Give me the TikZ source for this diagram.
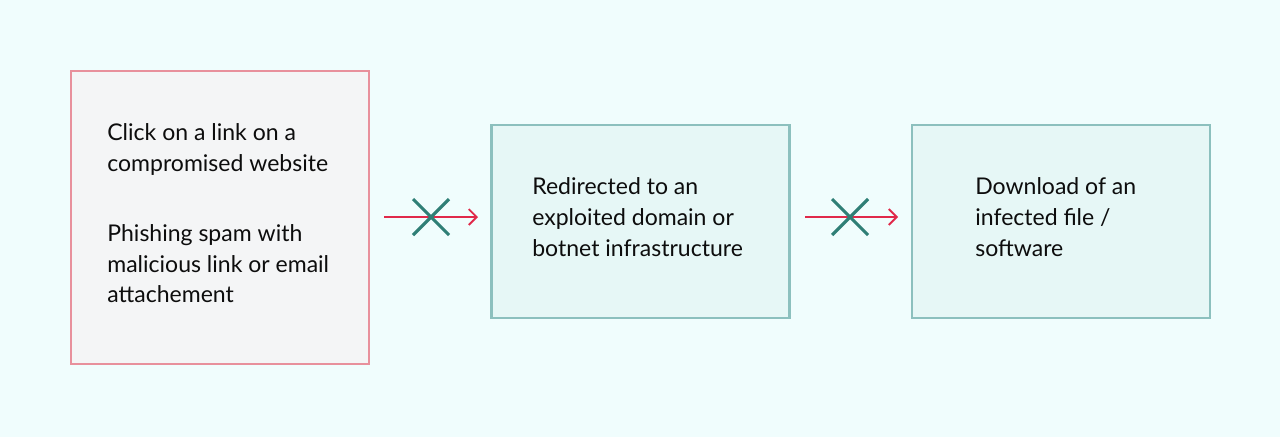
\documentclass[tikz,border=0pt]{standalone}
\usepackage{fontspec}
\setmainfont{Lato}
\usetikzlibrary{arrows.meta,calc}
\definecolor{bgcol}{HTML}{F0FDFD}
\definecolor{pinkline}{HTML}{E8909C}
\definecolor{greyfill}{HTML}{F4F5F6}
\definecolor{tealline}{HTML}{8CC0BE}
\definecolor{tealfill}{HTML}{E6F7F6}
\definecolor{arrowred}{HTML}{E0294A}
\definecolor{crossteal}{HTML}{2F7F76}
\tikzset{
  stagebox/.style={draw, line width=1.4pt, minimum width=5.96cm},
  stagetext/.style={anchor=north west, align=left, inner sep=0pt,
    font=\fontsize{13.1}{17.6}\selectfont, text=black!95},
  flow/.style={arrowred, line width=1.1pt, -{Straight Barb[length=4.5pt,width=9pt]}},
  cross/.style={crossteal, line width=1.8pt}
}
\begin{document}
\begin{tikzpicture}[x=0.02cm, y=-0.02cm]
  \fill[bgcol] (0,0) rectangle (1280,437);
  \useasboundingbox (0,0) rectangle (1280,437);

  % boxes
  \node[stagebox, draw=pinkline, fill=greyfill, minimum height=5.86cm] (click) at (220,217.5) {};
  \node[stagebox, draw=tealline, fill=tealfill, minimum height=3.86cm] (redirect) at (640.5,221.5) {};
  \node[stagebox, draw=tealline, fill=tealfill, minimum height=3.86cm] (download) at (1061,221.5) {};

  % texts
  \node[stagetext] (clicktext) at (107,123) {Click on a link on a\\compromised website\\[0.78cm]Phishing spam with\\malicious link or email\\attachement};
  \node[stagetext] (redirecttext) at (532,177) {Redirected to an\\exploited domain or\\botnet infrastructure};
  \node[stagetext] (downloadtext) at (975,177) {Download of an\\infected file /\\software};

  % blocked arrows
  \coordinate (a1s) at (384,217);
  \coordinate (a1e) at (478,217);
  \coordinate (a2s) at (805,217);
  \coordinate (a2e) at (898,217);
  \draw[flow] (a1s) -- (a1e);
  \draw[flow] (a2s) -- (a2e);
  \foreach \c in {431,850}{
    \draw[cross] (\c-18,199) -- (\c+18,235);
    \draw[cross] (\c-18,235) -- (\c+18,199);
  }
\end{tikzpicture}
\end{document}
